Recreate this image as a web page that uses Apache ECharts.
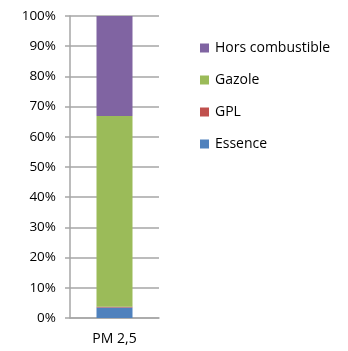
<!DOCTYPE html>
<html>
<head>
<meta charset="utf-8">
<script src="https://cdn.jsdelivr.net/npm/echarts@6/dist/echarts.min.js"></script>
<style>
  html, body { margin: 0; padding: 0; background: #fff; }
  #chart { width: 348px; height: 351px; }
</style>
</head>
<body>
<div id="chart"></div>
<script>
// Share of PM 2,5 emissions by fuel type (percent)
const categories = ['PM 2,5'];
const essence = [3.5];
const gpl = [0.2];
const gazole = [63.2];
const horsCombustible = [33.1];
const seriesNames = ['Essence', 'GPL', 'Gazole', 'Hors combustible'];
const seriesColors = ['#4F81BD', '#C0504D', '#9BBB59', '#8064A2'];
const seriesValues = [essence, gpl, gazole, horsCombustible];

const font = '"Open Sans", "Liberation Sans", sans-serif';
const chart = echarts.init(document.getElementById('chart'), null, { renderer: 'canvas' });

chart.setOption({
  animation: false,
  textStyle: { fontFamily: font },
  grid: { left: 70, right: 189, top: 16, bottom: 33, containLabel: false },
  legend: {
    orient: 'vertical',
    left: 195,
    top: 34,
    itemWidth: 9,
    itemHeight: 9,
    itemGap: 14,
    icon: 'rect',
    data: seriesNames.slice().reverse(),
    textStyle: { fontSize: 14, color: '#000', fontFamily: font, padding: [0, 0, 0, 1], lineHeight: 18 }
  },
  xAxis: {
    type: 'category',
    data: categories,
    axisLine: { lineStyle: { color: '#A6A6A6', width: 1.5 } },
    axisTick: { alignWithLabel: false, length: 5, lineStyle: { color: '#A6A6A6', width: 1.5 } },
    axisLabel: { fontSize: 14, color: '#000', margin: 14, fontFamily: font }
  },
  yAxis: {
    type: 'value',
    min: 0,
    max: 100,
    interval: 10,
    axisLine: { show: true, lineStyle: { color: '#A6A6A6', width: 1.5 } },
    axisTick: { show: true, length: 5, lineStyle: { color: '#A6A6A6', width: 1.5 } },
    axisLabel: { fontSize: 13.5, color: '#000', margin: 14, fontFamily: font, formatter: '{value}%' },
    splitLine: { lineStyle: { color: '#A6A6A6', width: 1.5 } }
  },
  series: seriesNames.map((name, i) => ({
    name: name,
    type: 'bar',
    stack: 'total',
    barWidth: 36,
    itemStyle: { color: seriesColors[i] },
    data: seriesValues[i]
  }))
});
</script>
</body>
</html>
